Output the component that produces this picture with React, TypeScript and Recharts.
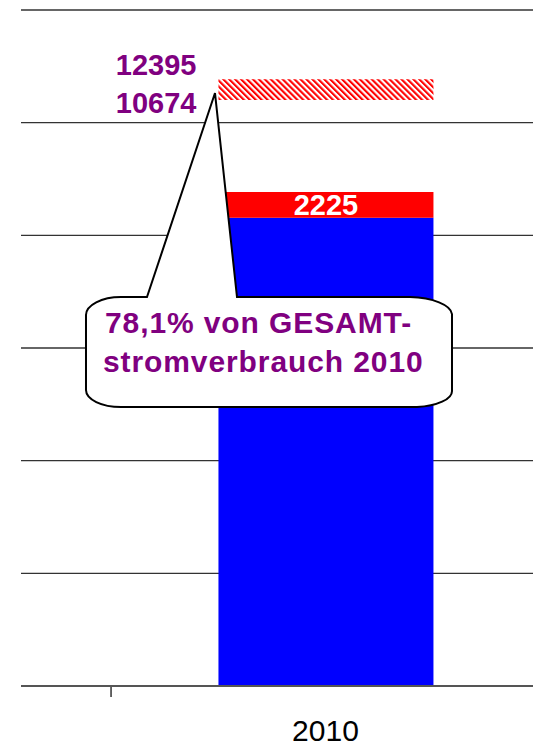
import { BarChart, Bar, XAxis, YAxis, CartesianGrid, LabelList, ReferenceDot } from "recharts"

// one category, stacked: blue base, red top, invisible gap, hatched block
const categories = ["2010"]
const categoryPos = [1]
const blueValues = [8313]
const redValues = [456]
const gapValues = [1633]
const hatchValues = [368]
const redLabels = ["2225"]
const hatchLabels = [["12395", "10674"]]
const calloutLines = ["78,1% von GESAMT-", "stromverbrauch 2010"]
const calloutTip = { x: 0.7424, y: 10526 }
const yTicks = [0, 2000, 4000, 6000, 8000, 10000, 12000]
const xTicks = [0.5, 1]

const data = categories.map((c, i) => ({
  pos: categoryPos[i],
  year: c,
  blue: blueValues[i],
  red: redValues[i],
  gap: gapValues[i],
  hatch: hatchValues[i],
}))

const PURPLE = "#800080"
const FONT = "'Liberation Sans', Arial, sans-serif"

const renderTick = (props: any) => {
  const { x, y, payload } = props
  const idx = categoryPos.indexOf(payload.value)
  if (idx < 0) {
    return <line x1={x} x2={x} y1={y + 1} y2={y + 11} stroke="#333" strokeWidth={1.5} />
  }
  return (
    <text x={x} y={y + 55} textAnchor="middle" fontSize={30} fontFamily={FONT} fill="#000">
      {categories[idx]}
    </text>
  )
}

const renderHatchLabels = (props: any) => {
  const { x, y, height, index } = props
  const mid = y + height / 2
  const [top, bottom] = hatchLabels[index ?? 0]
  return (
    <g fontFamily={FONT} fontWeight="bold" fontSize={29} fill={PURPLE} textAnchor="end">
      <text x={x - 22} y={mid - 15}>{top}</text>
      <text x={x - 22} y={mid + 23}>{bottom}</text>
    </g>
  )
}

const renderCallout = (props: any) => {
  const { cx, cy } = props
  const p = (dx: number, dy: number) => `${cx + dx} ${cy + dy}`
  const d = [
    `M ${p(-68, 204)}`,
    `L ${p(0, 0)}`,
    `L ${p(22, 204)}`,
    `L ${p(195, 204)}`,
    `A 45 18 0 0 1 ${p(237, 221)}`,
    `L ${p(237, 298)}`,
    `A 40 16 0 0 1 ${p(202, 314)}`,
    `L ${p(-94, 314)}`,
    `A 35 17 0 0 1 ${p(-129, 297)}`,
    `L ${p(-129, 222)}`,
    `A 35 18 0 0 1 ${p(-94, 204)}`,
    "Z",
  ].join(" ")
  return (
    <g>
      <path d={d} fill="#fff" stroke="#000" strokeWidth={2} strokeLinejoin="miter" />
      <g fontFamily={FONT} fontWeight="bold" fontSize={30} letterSpacing={0.9} fill={PURPLE}>
        <text x={cx - 110} y={cy + 240}>{calloutLines[0]}</text>
        <text x={cx - 112} y={cy + 279}>{calloutLines[1]}</text>
      </g>
    </g>
  )
}

export default function App() {
  return (
    <div style={{ position: "absolute", left: 0, top: 0, background: "#fff" }}>
      <BarChart
        width={533}
        height={747}
        data={data}
        margin={{ top: 10, right: 0, bottom: 0, left: 21 }}
      >
        <defs>
          <pattern
            id="hatch"
            patternUnits="userSpaceOnUse"
            width={4.2}
            height={4.2}
            patternTransform="rotate(-45)"
          >
            <rect x={0} y={0} width={4.2} height={4.2} fill="#fff" />
            <rect x={0} y={0} width={2.1} height={4.2} fill="#ff0000" />
          </pattern>
        </defs>
        <CartesianGrid vertical={false} stroke="#333" strokeWidth={1.3} />
        <YAxis hide domain={[0, 12000]} ticks={yTicks} />
        <XAxis
          dataKey="pos"
          type="number"
          domain={[0.29, 1.484]}
          allowDataOverflow
          ticks={xTicks}
          interval={0}
          tickLine={false}
          tickSize={0}
          tickMargin={0}
          height={61}
          axisLine={{ stroke: "#555", strokeWidth: 2 }}
          tick={renderTick}
        />
        <Bar dataKey="blue" stackId="a" fill="#0000ff" barSize={215} isAnimationActive={false} />
        <Bar dataKey="red" stackId="a" fill="#ff0000" barSize={215} isAnimationActive={false}>
          <LabelList
            dataKey="red"
            position="center"
            formatter={() => redLabels[0]}
            fill="#fff"
            fontSize={29}
            fontWeight="bold"
            fontFamily={FONT}
          />
        </Bar>
        <Bar dataKey="gap" stackId="a" fill="transparent" barSize={215} isAnimationActive={false} />
        <Bar dataKey="hatch" stackId="a" fill="url(#hatch)" barSize={215} isAnimationActive={false}>
          <LabelList dataKey="hatch" content={renderHatchLabels} />
        </Bar>
        <ReferenceDot
          x={calloutTip.x}
          y={calloutTip.y}
          r={0}
          ifOverflow="visible"
          shape={renderCallout}
        />
      </BarChart>
    </div>
  )
}
